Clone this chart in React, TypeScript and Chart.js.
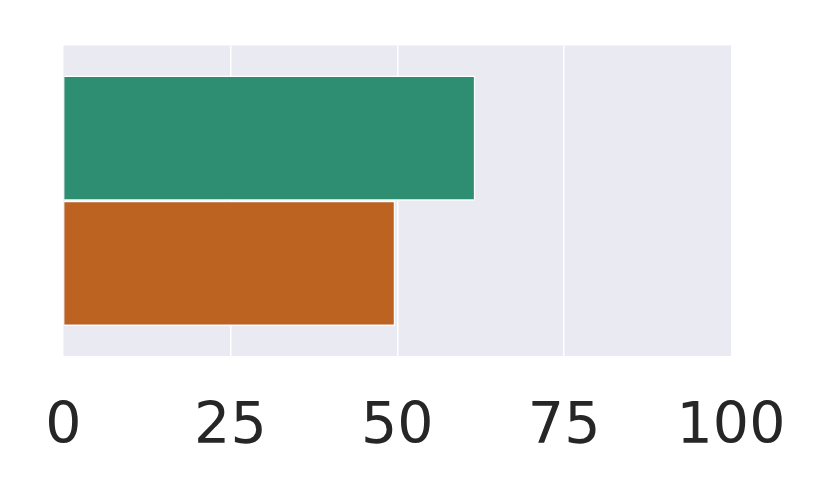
import React, { useEffect, useRef } from "react";
import { Chart, registerables } from "chart.js";

Chart.register(...registerables);

const categories = [""];
const seriesA = [61.7];
const seriesB = [49.7];
const xTicks = [0, 25, 50, 75, 100];

export default function App() {
  const ref = useRef<HTMLCanvasElement | null>(null);
  useEffect(() => {
    document.body.style.margin = "0";
    const ctx = ref.current!;
    const chart = new Chart(ctx, {
      type: "bar",
      data: {
        labels: categories,
        datasets: [
          {
            label: "A",
            data: seriesA,
            backgroundColor: "#2d8e72",
            borderColor: "#ffffff",
            borderWidth: 1.5,
            borderSkipped: "start",
            categoryPercentage: 0.806,
            barPercentage: 1,
          },
          {
            label: "B",
            data: seriesB,
            backgroundColor: "#bd6321",
            borderColor: "#ffffff",
            borderWidth: 1.5,
            borderSkipped: "start",
            categoryPercentage: 0.806,
            barPercentage: 1,
          },
        ],
      },
      options: {
        indexAxis: "y",
        animation: false,
        responsive: false,
        maintainAspectRatio: false,
        devicePixelRatio: 1,
        layout: { padding: { left: 63.5, right: 99, top: 45.5, bottom: 0 } },
        plugins: {
          legend: { display: false },
          tooltip: { enabled: false },
        },
        scales: {
          x: {
            type: "linear",
            min: 0,
            max: 100,
            afterBuildTicks: (scale: any) => {
              scale.ticks = xTicks.map((v) => ({ value: v }));
            },
            afterFit: (scale: any) => {
              scale.height = 142;
            },
            border: { display: false },
            grid: {
              color: (c: any) =>
                c.tick && (c.tick.value === 0 || c.tick.value === 100)
                  ? "rgba(0,0,0,0)"
                  : "#ffffff",
              lineWidth: 1.5,
              drawTicks: false,
            },
            ticks: {
              color: "#262626",
              padding: 38,
              font: { family: "DejaVu Sans", size: 57 },
              maxRotation: 0,
              autoSkip: false,
            },
          },
          y: {
            display: false,
            grid: { display: false },
          },
        },
      },
      plugins: [
        {
          id: "bg",
          beforeDraw: (c: any) => {
            const { ctx, chartArea } = c;
            ctx.save();
            ctx.fillStyle = "#eaeaf2";
            ctx.fillRect(
              chartArea.left,
              chartArea.top,
              chartArea.right - chartArea.left,
              chartArea.bottom - chartArea.top
            );
            ctx.restore();
          },
        },
      ],
    });
    return () => chart.destroy();
  }, []);
  return (
    <div style={{ position: "absolute", left: 0, top: 0, width: 830, height: 498, background: "#fff" }}>
      <canvas ref={ref} width={830} height={498} style={{ width: 830, height: 498 }} />
    </div>
  );
}
